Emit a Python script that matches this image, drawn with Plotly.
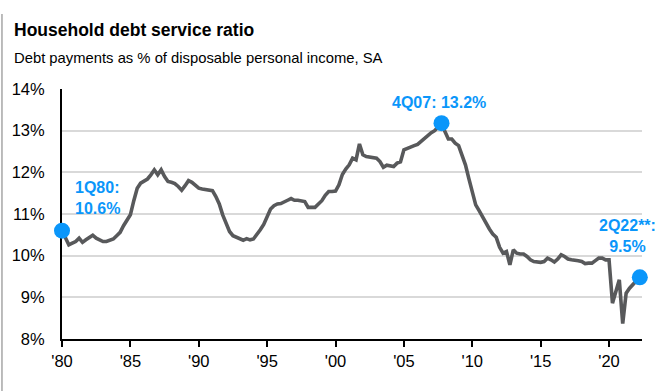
import plotly.graph_objects as go

# ---- data (quarterly, % of disposable personal income) ----
start_year = 1980
dsr_1980s = [10.60, 10.42, 10.26, 10.30, 10.34, 10.42, 10.32, 10.38, 10.44, 10.49, 10.42, 10.37,
             10.34, 10.34, 10.38, 10.40, 10.48, 10.56, 10.72, 10.84, 10.98, 11.32, 11.62, 11.74,
             11.78, 11.84, 11.94, 12.06, 11.94, 12.06, 11.90, 11.78, 11.76, 11.73, 11.66, 11.57,
             11.68, 11.80, 11.76, 11.70]
dsr_1990s = [11.62, 11.60, 11.58, 11.58, 11.56, 11.42, 11.24, 10.98, 10.78, 10.58, 10.48, 10.44,
             10.40, 10.37, 10.41, 10.38, 10.40, 10.50, 10.62, 10.75, 10.94, 11.12, 11.20, 11.24,
             11.25, 11.28, 11.33, 11.37, 11.33, 11.33, 11.32, 11.30, 11.16, 11.15, 11.16, 11.24,
             11.32, 11.45, 11.54, 11.54]
dsr_2000s = [11.55, 11.70, 11.95, 12.08, 12.18, 12.34, 12.30, 12.68, 12.42, 12.38, 12.37, 12.35,
             12.34, 12.26, 12.12, 12.17, 12.16, 12.14, 12.22, 12.25, 12.54, 12.58, 12.61, 12.64,
             12.67, 12.74, 12.82, 12.90, 12.95, 13.00, 13.08, 13.18, 12.98, 12.80, 12.80, 12.70,
             12.64, 12.40, 12.18, 11.85]
dsr_2010s = [11.50, 11.22, 11.08, 10.92, 10.78, 10.64, 10.52, 10.44, 10.20, 10.06, 10.10, 9.78,
             10.14, 10.06, 10.04, 10.04, 9.98, 9.90, 9.86, 9.84, 9.84, 9.86, 9.94, 9.90,
             9.85, 9.92, 10.02, 9.98, 9.92, 9.90, 9.90, 9.88, 9.86, 9.81, 9.82, 9.82,
             9.88, 9.94, 9.94, 9.90]
dsr_2020s = [9.90, 8.86, 9.14, 9.42, 8.37, 9.10, 9.22, 9.32, 9.40, 9.48]

callout_quarters = ["1Q80", "4Q07", "2Q22"]
callout_labels = ["1Q80", "4Q07", "2Q22**"]

x_tick_years = [1980, 1985, 1990, 1995, 2000, 2005, 2010, 2015, 2020]
x_tick_text = ["'80", "'85", "'90", "'95", "'00", "'05", "'10", "'15", "'20"]
y_tick_vals = [8, 9, 10, 11, 12, 13, 14]
y_tick_text = ["8%", "9%", "10%", "11%", "12%", "13%", "14%"]

# ---- build series ----
values = dsr_1980s + dsr_1990s + dsr_2000s + dsr_2010s + dsr_2020s
xs = [start_year + i / 4 for i in range(len(values))]
qlabels = [f"{i % 4 + 1}Q{(start_year + i // 4) % 100:02d}" for i in range(len(values))]

LINE = "#58595b"
BLUE = "#0a96fa"
FONT = "Liberation Sans, Arial, sans-serif"

fig = go.Figure()
fig.add_trace(go.Scatter(x=xs, y=values, mode="lines",
                         line=dict(color=LINE, width=3.6), hoverinfo="skip",
                         showlegend=False))

cx, cy = [], []
for q in callout_quarters:
    i = qlabels.index(q)
    cx.append(xs[i]); cy.append(values[i])
fig.add_trace(go.Scatter(x=cx, y=cy, mode="markers", cliponaxis=False,
                         marker=dict(color=BLUE, size=16), showlegend=False))

# callout text
txt = [f"{callout_labels[0]}:<br>{cy[0]:.1f}%",
       f"{callout_labels[1]}: {cy[1]:.1f}%",
       f"{callout_labels[2]}:<br>{cy[2]:.1f}%"]
pos = [dict(x=1980.8, y=11.39, xanchor="left", align="left"),
       dict(x=2007.57, y=13.67, xanchor="center", align="center"),
       dict(x=2021.35, y=10.47, xanchor="center", align="center")]
for t, p in zip(txt, pos):
    fig.add_annotation(text=t, xref="x", yref="y", showarrow=False, yanchor="middle",
                       font=dict(family=FONT, size=16, color=BLUE, weight="bold"), **p)

# title & subtitle
fig.add_annotation(text="<b>Household debt service ratio</b>", xref="paper", yref="paper",
                   x=-0.0862, y=1.236, xanchor="left", yanchor="middle", showarrow=False,
                   font=dict(family=FONT, size=17.5, color="black"))
fig.add_annotation(text="Debt payments as % of disposable personal income, SA",
                   xref="paper", yref="paper", x=-0.0862, y=1.126, xanchor="left",
                   yanchor="middle", showarrow=False,
                   font=dict(family=FONT, size=14.8, color="black"))

# left border line of the original image
fig.add_shape(type="line", xref="paper", yref="paper", x0=-0.1035, x1=-0.1035,
              y0=-0.21, y1=1.30, line=dict(color="#a6a6a6", width=1.5))

fig.update_layout(
    width=667, height=391,
    margin=dict(l=62, r=25, t=89, b=52),
    paper_bgcolor="white", plot_bgcolor="white",
    font=dict(family=FONT, color="black"),
    xaxis=dict(range=[1980, 2022.41], tickvals=x_tick_years, ticktext=x_tick_text,
               showline=True, linecolor="black", linewidth=2, ticks="outside",
               ticklen=6, tickwidth=2, tickcolor="black", showgrid=False, zeroline=False,
               tickfont=dict(size=16.5, color="black"), layer="below traces"),
    yaxis=dict(range=[8, 14], tickvals=y_tick_vals, ticktext=y_tick_text,
               showline=True, linecolor="black", linewidth=2, ticks="",
               showgrid=True, gridcolor="#d9d9d9", gridwidth=1.5, zeroline=False,
               tickfont=dict(size=16.5, color="black"), ticklabelstandoff=12,
               layer="below traces"),
)

fig.write_html("out.html", config={"displayModeBar": False},
               post_script="document.body.style.margin='0';")
